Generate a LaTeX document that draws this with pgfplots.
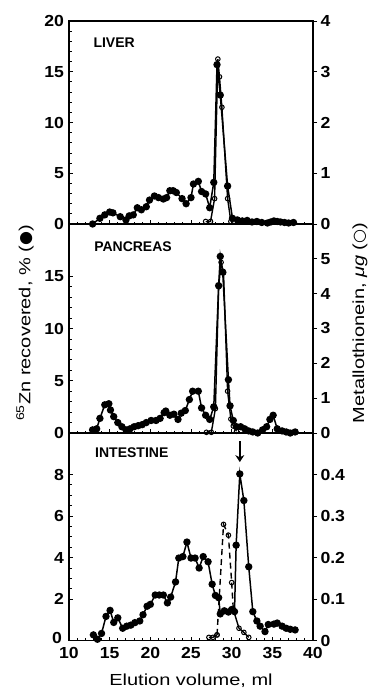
\documentclass[border=0pt]{standalone}
\usepackage{fontspec}
\setmainfont{Liberation Sans}
\newfontfamily\tickfont{Liberation Sans}[FakeStretch=1.1]
\newfontfamily\labfont{Liberation Sans}[FakeStretch=1.25]
\newfontfamily\symfont{DejaVu Sans}
\usepackage{pgfplots}
\pgfplotsset{compat=1.18}
\usetikzlibrary{arrows.meta}

\pgfplotsset{
  common/.style={
    scale only axis, width=244pt, xmin=10, xmax=40, clip=false,
    axis line style={line width=1.3pt},
    tick style={black, line width=0.9pt},
    ticklabel style={font=\tickfont\bfseries\fontsize{16}{16}\selectfont},
    /pgf/number format/assume math mode=true,
  },
  lpanel/.style={common,
    xtick={10,15,...,40}, minor x tick num=4,
    xtick pos=bottom, ytick pos=left, tick align=inside,
    major tick length=4pt, minor tick length=2.5pt,
    yticklabel style={xshift=-1.5pt},
    xticklabel style={yshift=-3pt},
  },
  rpanel/.style={common,
    axis x line=none, axis y line*=right, ytick pos=right,
    tick align=outside, major tick length=4pt,
  },
  zn/.style={black, line width=1.5pt, mark=*, mark size=2.9pt},
  mt/.style={black, line width=1.4pt, mark=o, mark size=2.3pt, mark options={solid, fill=white, line width=1pt}},
}

\begin{document}
\begin{tikzpicture}
% ---------------- LIVER ----------------
\begin{axis}[rpanel, at={(69pt,-21pt)}, anchor=north west, height=203pt,
  ymin=0, ymax=4, ytick={0,1,2,3,4}]
\addplot[mt] coordinates {
(26.8,0.05) (27.4,0.05) (27.9,0.5) (28.3,3.25) (28.5,2.9) (28.8,2.3) (29.5,0.5) (29.9,0.05)
};
\end{axis}
\begin{axis}[lpanel, at={(69pt,-21pt)}, anchor=north west, height=203pt,
  ymin=0, ymax=20, ytick={0,5,10,15,20}, minor y tick num=4, xticklabels={}]
\addplot[zn] coordinates {
(12.9,0.0) (13.8,0.56) (14.4,0.9) (15.0,1.18) (15.4,1.1) (16.3,0.72) (17.0,0.4)
(17.4,0.8) (17.9,0.9) (18.4,1.6) (18.9,1.4) (19.5,1.7) (19.9,2.36) (20.5,2.76)
(21.0,2.6) (21.6,2.46) (22.0,2.6) (22.4,3.28) (22.8,3.28) (23.2,3.1) (23.9,2.5)
(24.4,2.0) (25.0,2.6) (25.3,3.94) (25.9,4.2) (26.3,3.2) (26.8,2.96) (27.3,1.6)
(27.8,4.1) (28.2,15.7) (28.6,12.7) (29.5,3.74) (30.1,0.56) (30.7,0.4) (31.3,0.3)
(31.9,0.35) (32.5,0.2) (33.1,0.25) (33.7,0.15) (34.4,0.1) (34.8,0.2) (35.2,0.3)
(35.6,0.25) (36.0,0.2) (36.5,0.15) (37.0,0.1) (37.6,0.15)
};
\node[anchor=west, font=\bfseries\fontsize{14}{14}\selectfont] at (rel axis cs:0.086,0.894) {LIVER};
\end{axis}
% ---------------- PANCREAS ----------------
\begin{axis}[rpanel, at={(69pt,-224pt)}, anchor=north west, height=209pt,
  ymin=0, ymax=6, ytick={0,1,2,3,4,5}]
\addplot[mt] coordinates {
(26.9,0.02) (27.5,0.02) (28.0,0.7) (28.4,4.2) (28.7,4.9) (29.0,4.6) (29.5,1.2) (29.9,0.4) (30.2,0.2) (30.6,0.05)
};
\end{axis}
\begin{axis}[lpanel, at={(69pt,-224pt)}, anchor=north west, height=209pt,
  ymin=0, ymax=20, ytick={0,5,10,15}, minor y tick num=4, xticklabels={},
  extra y ticks={20}, extra y tick labels={}]
\addplot[zn] coordinates {
(12.9,0.3) (13.4,0.4) (13.8,1.4) (14.4,2.7) (14.9,2.8) (15.1,2.2) (15.5,1.57)
(16.0,1.0) (16.5,0.6) (17.0,0.3) (17.5,0.4) (18.0,0.6) (18.5,0.7) (19.0,0.8)
(19.5,1.0) (20.1,1.2) (20.7,1.2) (21.2,1.4) (21.7,1.95) (21.9,2.1) (22.4,1.7)
(22.9,1.8) (23.4,1.3) (23.8,1.9) (24.3,2.15) (24.8,3.2) (25.2,4.0) (25.9,4.0)
(26.3,2.4) (26.8,1.7) (27.3,1.3) (27.8,2.5) (28.4,14.1) (28.6,16.9) (28.9,15.4)
(29.6,5.1) (29.8,2.6) (30.2,1.2) (30.6,0.6) (31.1,0.6) (31.6,0.4) (32.1,0.2)
(32.6,0.1) (33.2,0.0) (33.8,0.3) (34.3,0.6) (34.7,1.3) (35.1,1.7) (35.6,0.4)
(36.2,0.2) (36.7,0.1) (37.2,0.0) (37.8,0.1)
};
\node[anchor=west, font=\bfseries\fontsize{14}{14}\selectfont] at (rel axis cs:0.089,0.891) {PANCREAS};
\end{axis}
% ---------------- INTESTINE ----------------
\begin{axis}[rpanel, at={(69pt,-433pt)}, anchor=north west, height=207.7pt,
  ymin=0, ymax=0.5, ytick={0,0.1,0.2,0.3,0.4},
  yticklabel style={/pgf/number format/fixed}]
\addplot[mt] coordinates {(27.2,0.008) (27.7,0.008) (28.2,0.014)};
\addplot[mt, dash pattern=on 6pt off 4pt] coordinates {(28.2,0.014) (29.0,0.28) (29.6,0.254) (30.0,0.14) (30.2,0.075)};
\addplot[mt] coordinates {(30.2,0.075) (30.9,0.03) (31.5,0.02) (32.1,0.008)};
\end{axis}
\begin{axis}[lpanel, at={(69pt,-433pt)}, anchor=north west, height=207.7pt,
  ymin=0, ymax=10, ytick={2,4,6,8}, minor y tick num=3,
  extra y ticks={0}, extra y tick style={yticklabel style={yshift=3pt, xshift=-2pt}}]
\addplot[zn] coordinates {
(13.0,0.28) (13.5,0.07) (14.0,0.35) (14.55,1.17) (15.05,1.46) (15.5,0.88) (16.0,1.1)
(16.6,0.6) (17.1,0.7) (17.6,0.75) (18.1,0.87) (18.7,0.95) (19.1,1.25) (19.6,1.66)
(20.0,1.75) (20.6,2.2) (21.1,2.2) (21.6,2.2) (22.1,1.82) (22.5,2.1) (23.1,2.83)
(23.5,3.98) (24.0,4.05) (24.5,4.75) (25.0,3.98) (25.5,3.98) (26.0,3.5) (26.5,4.05)
(27.1,3.8) (27.6,2.72) (28.0,2.18) (28.4,2.07) (28.6,1.29) (29.1,1.44) (29.6,1.38)
(30.0,1.5) (30.35,1.4) (30.55,4.6) (31.0,8.03) (31.5,6.75) (32.1,3.56) (32.6,1.4)
(33.1,0.95) (33.5,0.7) (34.1,0.44) (34.5,0.78) (35.2,0.8) (35.6,0.85) (36.2,0.7)
(36.7,0.6) (37.2,0.55) (37.8,0.52)
};
\draw[-{Stealth[length=7pt,width=9pt]}, line width=2.4pt] (axis cs:31,9.6) -- (axis cs:31,8.6);
\node[anchor=west, font=\bfseries\fontsize{14}{14}\selectfont] at (rel axis cs:0.093,0.906) {INTESTINE};
\end{axis}
% ---------------- labels ----------------
\node[font=\labfont\fontsize{16}{16}\selectfont] at (191pt,-681pt) {Elution volume, ml};
\node[rotate=90, font=\labfont\fontsize{16}{16}\selectfont] at (25pt,-323pt)
  {\textsuperscript{65}Zn recovered, \% ({\symfont ●})};
\node[rotate=90, font=\labfont\fontsize{16}{16}\selectfont] at (360pt,-323pt)
  {Metallothionein, {\itshape μg} ({\symfont ○})};
\pgfresetboundingbox
\path[use as bounding box] (0pt,0pt) rectangle (371pt,-693pt);
\end{tikzpicture}
\end{document}
